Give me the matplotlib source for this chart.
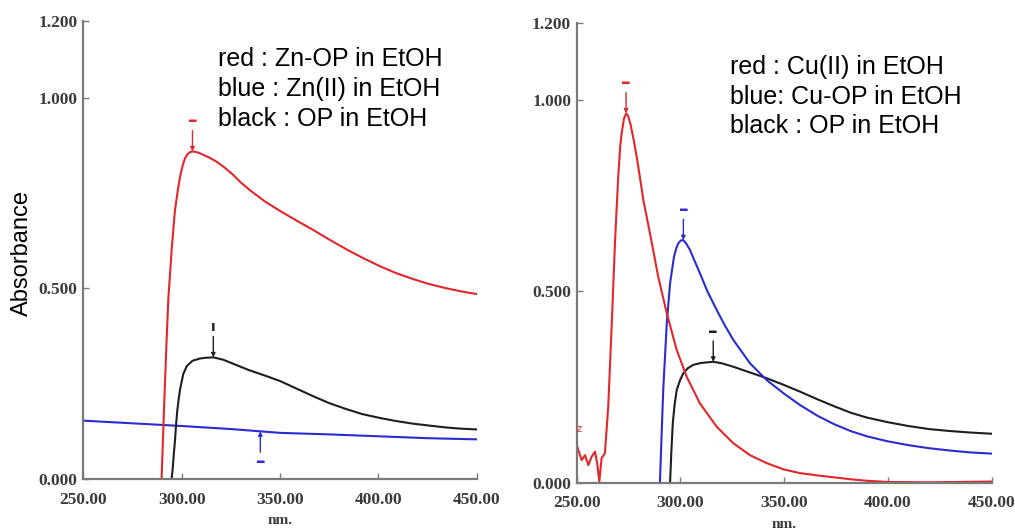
import matplotlib
matplotlib.use('Agg')
import matplotlib.pyplot as plt

# ---- left panel: Zn system ----
zn_op_x = [289.8, 291.0, 292.4, 293.2, 294.9, 296.6, 298.0, 299.2, 300.5, 301.7, 303.0, 304.2, 305.5,
           306.8, 309.0, 311.0, 314.0, 317.8, 322.0, 326.3, 330.0, 334.8, 342.0, 350.0, 358.0, 366.9,
           375.0, 383.9, 392.0, 400.8, 409.0, 417.8, 426.0, 434.7, 442.0, 450.0]
zn_op_y = [0.000, 0.180, 0.370, 0.470, 0.600, 0.705, 0.755, 0.793, 0.822, 0.841, 0.852, 0.857, 0.859,
           0.858, 0.855, 0.850, 0.843, 0.832, 0.816, 0.797, 0.778, 0.757, 0.729, 0.703, 0.679, 0.653,
           0.628, 0.602, 0.580, 0.558, 0.540, 0.524, 0.511, 0.500, 0.492, 0.485]

zn_ion_x = [250, 275, 300, 325, 350, 375, 400, 425, 450]
zn_ion_y = [0.153, 0.146, 0.139, 0.131, 0.121, 0.117, 0.112, 0.107, 0.104]
zn_ion_marker_x = 340

op_left_x = [294.9, 295.5, 296.0, 296.6, 297.2, 297.8, 298.5, 299.2, 300.8, 302.6, 305.5, 309.3, 312.5,
             316.1, 321.0, 326.3, 334.0, 343.0, 350.0, 358.0, 366.9, 375.0, 383.9, 392.0, 400.8, 409.0,
             417.8, 426.0, 434.7, 442.0, 450.0]
op_left_y = [0.000, 0.030, 0.065, 0.100, 0.145, 0.180, 0.210, 0.235, 0.275, 0.296, 0.310, 0.316, 0.318,
             0.319, 0.313, 0.302, 0.286, 0.270, 0.257, 0.238, 0.217, 0.199, 0.183, 0.170, 0.160, 0.152,
             0.145, 0.140, 0.135, 0.132, 0.130]

# ---- right panel: Cu system ----
cu_ion_x = [250.0, 250.8, 252.4, 254.0, 255.6, 257.2, 258.8, 259.9, 260.9, 262.0, 263.6, 265.2, 266.9,
            268.5, 270.1, 271.0, 271.7, 272.8, 273.8, 274.8, 276.0, 277.5, 278.9, 280.5, 282.1, 285.3,
            289.3, 293.4, 298.2, 303.0, 309.4, 317.5, 325.5, 333.5, 341.6, 349.6, 357.6, 366.0, 374.0,
            382.0, 390.0, 400.0, 420.0, 450.0]
cu_ion_y = [0.100, 0.085, 0.059, 0.072, 0.046, 0.068, 0.081, 0.050, 0.003, 0.064, 0.077, 0.199, 0.416,
            0.634, 0.808, 0.880, 0.915, 0.952, 0.965, 0.958, 0.935, 0.895, 0.852, 0.797, 0.739, 0.652,
            0.538, 0.443, 0.347, 0.277, 0.207, 0.146, 0.103, 0.072, 0.051, 0.035, 0.025, 0.019, 0.014,
            0.009, 0.005, 0.002, 0.001, 0.003]

cu_op_x = [290.1, 291.7, 293.4, 295.0, 296.9, 298.0, 299.0, 300.2, 301.4, 302.8, 304.6, 306.8, 309.4,
           313.0, 317.5, 321.5, 325.5, 333.5, 341.6, 349.6, 357.6, 366.0, 374.0, 382.0, 390.0, 400.0,
           410.0, 420.0, 430.0, 440.0, 450.0]
cu_op_y = [0.000, 0.242, 0.416, 0.521, 0.591, 0.613, 0.626, 0.633, 0.634, 0.625, 0.608, 0.580, 0.547,
           0.500, 0.451, 0.410, 0.373, 0.312, 0.268, 0.234, 0.203, 0.175, 0.153, 0.135, 0.121, 0.108,
           0.098, 0.090, 0.084, 0.079, 0.076]

op_right_x = [295.0, 295.6, 296.3, 297.2, 298.2, 299.8, 301.4, 303.5, 306.2, 310.0, 315.8, 320.0, 325.5,
              333.0, 341.6, 349.6, 357.6, 366.0, 374.0, 382.0, 390.0, 400.0, 410.0, 420.0, 430.0, 440.0,
              450.0]
op_right_y = [0.000, 0.080, 0.155, 0.205, 0.242, 0.268, 0.286, 0.299, 0.308, 0.313, 0.316, 0.312, 0.303,
              0.289, 0.273, 0.256, 0.238, 0.218, 0.200, 0.183, 0.170, 0.158, 0.148, 0.140, 0.135, 0.131,
              0.128]

x_ticks = [250, 300, 350, 400, 450]
y_ticks = [0.0, 0.5, 1.0, 1.2]

legend_left = ['red : Zn-OP in EtOH', 'blue : Zn(II) in EtOH', 'black : OP in EtOH']
legend_right = ['red : Cu(II) in EtOH', 'blue: Cu-OP in EtOH', 'black : OP in EtOH']

RED = '#e3262b'
BLUE = '#2b2bd2'
BLACK = '#1e1e1e'
GRAY = '#7a7a7a'
TICK_FONT = dict(family='Liberation Serif', weight='bold', size=12.5, color='#3a3a3a')

W, H = 1015, 531
fig = plt.figure(figsize=(W / 100, H / 100), dpi=100)


def setup_axes(rect):
    ax = fig.add_axes(rect)
    ax.set_xlim(250, 450)
    ax.set_ylim(0, 1.2)
    for s in ['top', 'right']:
        ax.spines[s].set_visible(False)
    for s in ['left', 'bottom']:
        ax.spines[s].set_color(GRAY)
        ax.spines[s].set_linewidth(1.6)
    ax.set_xticks(x_ticks)
    ax.set_xticklabels([f'{v:.2f}' for v in x_ticks], fontdict=TICK_FONT)
    ax.set_yticks(y_ticks)
    ax.set_yticklabels([f'{v:.3f}' for v in y_ticks], fontdict=TICK_FONT)
    ax.tick_params(axis='x', direction='in', length=4, width=1, color=GRAY, pad=9)
    ax.tick_params(axis='y', direction='in', length=4, width=1, color=GRAY, pad=4)
    ax.set_xlabel('nm.', fontdict=dict(family='Liberation Serif', weight='bold', size=11, color='#3a3a3a'),
                  labelpad=5)
    return ax


def mark(ax, x, y, color, above=True, glyph='–', size=14):
    # peak pick marker: small dash with arrow pointing at the curve
    sgn = 1 if above else -1
    ax.annotate('', xy=(x, y), xytext=(0, sgn * 15), textcoords='offset points',
                arrowprops=dict(arrowstyle='-|>', color=color, lw=1, shrinkA=0, shrinkB=0,
                                mutation_scale=6))
    ax.annotate(glyph, xy=(x, y), xytext=(0, sgn * 22), textcoords='offset points', ha='center',
                va='center', fontsize=size, fontweight='bold', color=color)


def peak(xs, ys):
    i = max(range(len(ys)), key=lambda k: ys[k])
    return xs[i], ys[i]


# left panel
ax1 = setup_axes([83.3 / W, 1 - 479 / H, 393.4 / W, 457.6 / H])
ax1.plot(zn_ion_x, zn_ion_y, color=BLUE, lw=1.5)
ax1.plot(op_left_x, op_left_y, color=BLACK, lw=1.5)
ax1.plot(zn_op_x, zn_op_y, color=RED, lw=1.5)
mark(ax1, *peak(zn_op_x, zn_op_y), RED)
mark(ax1, *peak(op_left_x, op_left_y), BLACK, glyph='ı', size=10)
blue_y = zn_ion_y[zn_ion_x.index(325)] + (zn_ion_y[zn_ion_x.index(350)] - zn_ion_y[zn_ion_x.index(325)]) * 0.6
mark(ax1, zn_ion_marker_x, blue_y, BLUE, above=False)

# right panel
ax2 = setup_axes([576.7 / W, 1 - 482.7 / H, 415 / W, 459.2 / H])
ax2.plot(op_right_x, op_right_y, color=BLACK, lw=1.5)
ax2.plot(cu_op_x, cu_op_y, color=BLUE, lw=1.5)
ax2.plot(cu_ion_x, cu_ion_y, color=RED, lw=1.5)
mark(ax2, *peak(cu_ion_x, cu_ion_y), RED)
mark(ax2, *peak(cu_op_x, cu_op_y), BLUE)
mark(ax2, *peak(op_right_x, op_right_y), BLACK)
ax2.text(251, 0.14, 'z', color=RED, fontsize=7, ha='center', va='center')

fig.text(22 / W, 1 - 253 / H, 'Absorbance', rotation=90, ha='center', va='center',
         family='Liberation Sans', fontsize=17)

for i, line in enumerate(legend_left):
    fig.text(218 / W, 1 - (66.5 + 29.5 * i) / H, line, family='Liberation Sans', fontsize=18,
             va='baseline', ha='left')
for i, line in enumerate(legend_right):
    fig.text(730 / W, 1 - (74 + 29.5 * i) / H, line, family='Liberation Sans', fontsize=18,
             va='baseline', ha='left')

fig.savefig('out.png', dpi=100)
